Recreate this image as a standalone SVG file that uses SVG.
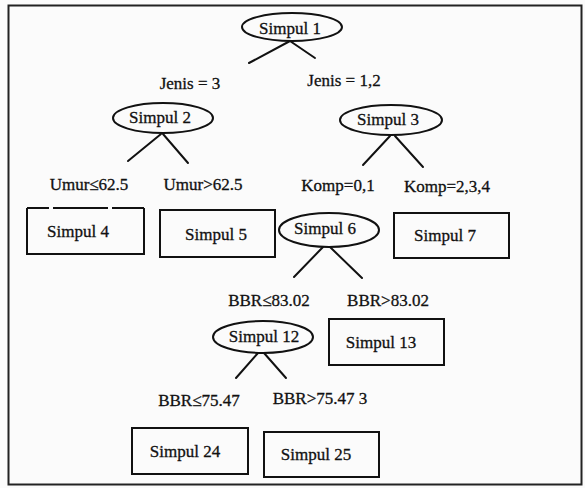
<svg xmlns="http://www.w3.org/2000/svg" width="585" height="488" viewBox="0 0 585 488">
<style>
text{font-size:17px;fill:#111;text-anchor:middle;stroke:#111;stroke-width:0.3}
.n{fill:none;stroke:#111;stroke-width:2}
.c line{stroke:#111;stroke-width:2;stroke-linecap:round}
</style>
<rect x="0" y="0" width="585" height="488" fill="#fbfbfb"/>
<rect x="8.5" y="5.5" width="573" height="479" fill="none" stroke="#222" stroke-width="2"/>
<g class="c" id="connectors">
<line x1="290" y1="41" x2="249" y2="63"/>
<line x1="290" y1="41" x2="315" y2="58"/>
<line x1="161" y1="134" x2="128" y2="161"/>
<line x1="163" y1="134" x2="188" y2="163"/>
<line x1="390" y1="136" x2="363" y2="165"/>
<line x1="395" y1="136" x2="423" y2="167"/>
<line x1="323" y1="247" x2="294" y2="277"/>
<line x1="330" y1="247" x2="362" y2="278"/>
<line x1="258" y1="353" x2="236" y2="378"/>
<line x1="264" y1="353" x2="286" y2="378"/>
</g>
<g font-family="Liberation Serif, DejaVu Serif, serif">
<g id="edge-labels">
<text x="190" y="89">Jenis = 3</text>
<text x="344" y="86">Jenis = 1,2</text>
<text x="89" y="190">Umur≤62.5</text>
<text x="203" y="190">Umur&gt;62.5</text>
<text x="338" y="191">Komp=0,1</text>
<text x="447" y="192">Komp=2,3,4</text>
<text x="269" y="306">BBR≤83.02</text>
<text x="388" y="306">BBR&gt;83.02</text>
<text x="199" y="406">BBR≤75.47</text>
<text x="320" y="404">BBR&gt;75.47 3</text>
</g>
<g id="simpul1"><ellipse class="n" cx="292" cy="27" rx="50" ry="14"/><text x="290" y="34">Simpul 1</text></g>
<g id="simpul2"><ellipse class="n" cx="163" cy="118" rx="50" ry="15"/><text x="160" y="123">Simpul 2</text></g>
<g id="simpul3"><ellipse class="n" cx="391" cy="120" rx="51" ry="15"/><text x="388" y="125">Simpul 3</text></g>
<g id="simpul4">
<path class="n" d="M27 208 V254 H144 V208"/>
<path class="n" d="M27 208 H144" stroke-dasharray="22 4 55 4 40"/>
<text x="78" y="237">Simpul 4</text></g>
<g id="simpul5"><rect class="n" x="160" y="210" width="115" height="47"/><text x="216" y="240">Simpul 5</text></g>
<g id="simpul6"><ellipse class="n" cx="329" cy="230" rx="50" ry="17"/><text x="325" y="234">Simpul 6</text></g>
<g id="simpul7"><rect class="n" x="394" y="213" width="115" height="45"/><text x="445" y="241">Simpul 7</text></g>
<g id="simpul12"><ellipse class="n" cx="263" cy="337" rx="50" ry="16"/><text x="264" y="342">Simpul 12</text></g>
<g id="simpul13"><rect class="n" x="329" y="319" width="115" height="46"/><text x="381" y="348">Simpul 13</text></g>
<g id="simpul24"><rect class="n" x="132" y="428" width="116" height="46"/><text x="185" y="457">Simpul 24</text></g>
<g id="simpul25"><rect class="n" x="264" y="432" width="115" height="45"/><text x="316" y="460">Simpul 25</text></g>
</g>
</svg>
